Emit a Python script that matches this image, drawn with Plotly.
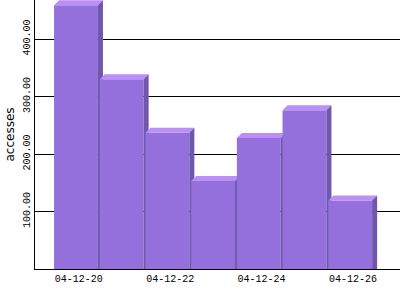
import plotly.graph_objects as go

dates = ["04-12-20", "04-12-21", "04-12-22", "04-12-23", "04-12-24", "04-12-25", "04-12-26"]
accesses = [459, 330, 237, 153, 228, 276, 119]
y_ticks = [100, 200, 300, 400]
label_dates = ["04-12-20", "04-12-22", "04-12-24", "04-12-26"]

FRONT = "#9370DB"
TOP = "#BB8EF8"
SIDE = "#7057AE"

# geometry (data units)
half = 0.48
dx = 0.11   # ~5px of depth horizontally
dy = 8.7    # ~5px of depth vertically

fig = go.Figure()
for i, v in enumerate(accesses):
    x0, x1 = i - half, i + half
    fig.add_trace(go.Scatter(x=[x0, x1, x1, x0, x0], y=[0, 0, v, v, 0], fill="toself",
                             fillcolor=FRONT, mode="lines", line=dict(width=0),
                             hoverinfo="skip", showlegend=False))
    fig.add_trace(go.Scatter(x=[x0, x0 + dx, x1 + dx, x1, x0], y=[v, v + dy, v + dy, v, v],
                             fill="toself", fillcolor=TOP, mode="lines", line=dict(width=0),
                             hoverinfo="skip", showlegend=False))
    fig.add_trace(go.Scatter(x=[x1, x1 + dx, x1 + dx, x1, x1], y=[0, 0, v + dy, v, 0],
                             fill="toself", fillcolor=SIDE, mode="lines", line=dict(width=0),
                             hoverinfo="skip", showlegend=False))

tickpos = [dates.index(d) + 0.06 for d in label_dates]

fig.update_layout(
    width=400, height=300,
    margin=dict(l=35, r=0, t=0, b=31),
    paper_bgcolor="white", plot_bgcolor="white",
    xaxis=dict(range=[-0.897, 7.09], tickvals=tickpos, ticktext=label_dates,
               showgrid=False, zeroline=False, showline=True, linecolor="black", linewidth=1,
               ticks="", tickfont=dict(family="Liberation Mono", size=10, color="black"),
               fixedrange=True),
    yaxis=dict(range=[0, 468], tickvals=y_ticks, tickformat=".2f", tickangle=-90,
               showgrid=True, gridcolor="black", gridwidth=1, zeroline=False,
               showline=True, linecolor="black", linewidth=1, ticks="",
               tickfont=dict(family="Liberation Mono", size=10, color="black"),
               title=dict(text="accesses", font=dict(family="DejaVu Sans", size=12, color="black"),
                          standoff=4),
               fixedrange=True),
)

fig.write_html("out.html")
